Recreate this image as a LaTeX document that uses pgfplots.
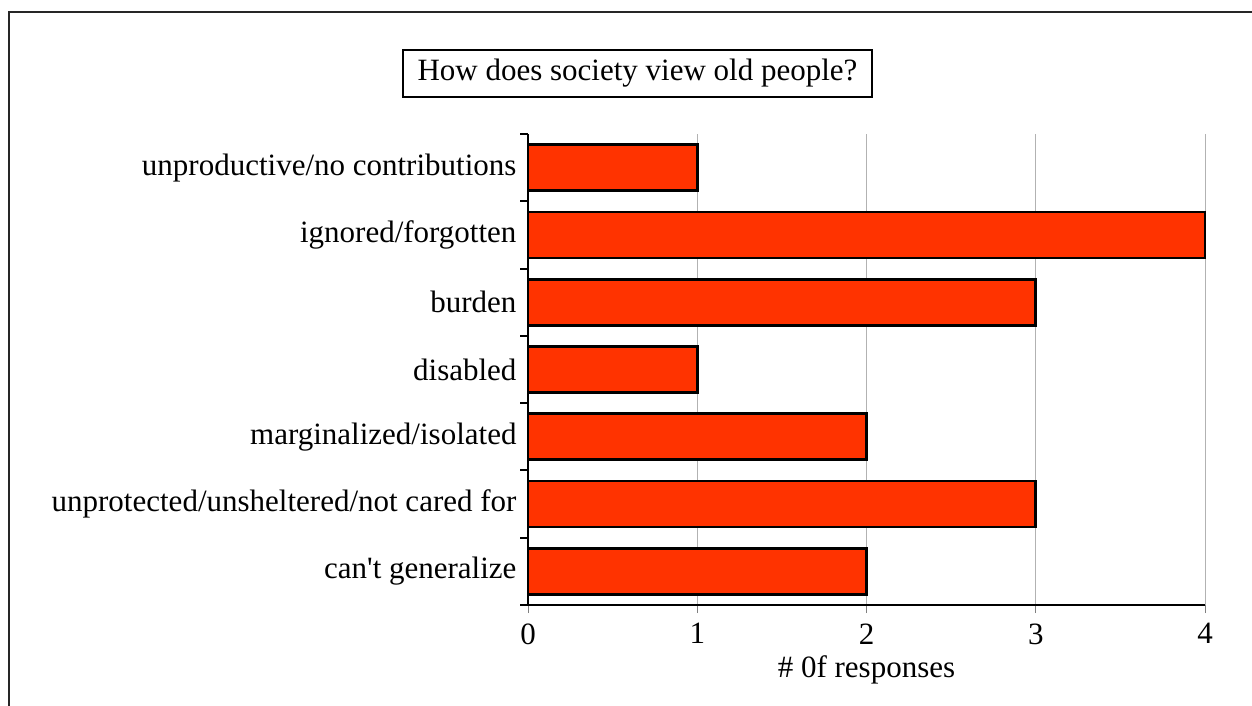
\documentclass[border=0pt]{standalone}
\usepackage{fontspec}
\setmainfont{Liberation Serif}
\usepackage{pgfplots}
\pgfplotsset{compat=1.18}
\definecolor{barred}{RGB}{255,51,0}
\newcommand{\bigf}{\fontsize{31}{37}\selectfont}
\begin{document}
\bigf
\begin{tikzpicture}[x=1pt,y=1pt]
\path[use as bounding box] (0,0) rectangle (1252,706);
\draw[line width=2pt,black!85] (9,0) -- (9,694) -- (1252,694);
\node[draw,line width=2.5pt,minimum width=469pt,minimum height=47pt,inner sep=0pt,font=\bigf] at (637.5,632.5) {How does society view old people?};
\begin{axis}[
  at={(528pt,101pt)}, anchor=south west,
  scale only axis, width=677pt, height=471pt,
  xmin=0, xmax=4, ymin=-0.5, ymax=6.5,
  axis x line*=bottom, axis y line*=left,
  axis line style={line width=2.5pt, -},
  xtick={0,1,2,3,4},
  ytick={0,1,2,3,4,5,6},
  yticklabels={can\textquotesingle t generalize, unprotected/unsheltered/not cared for, marginalized/isolated, disabled, burden, ignored/forgotten, unproductive/no contributions},
  minor ytick={-0.5,0.5,1.5,2.5,3.5,4.5,5.5,6.5},
  ytick style={draw=none},
  minor tick length=8pt,
  minor y tick style={draw=black, line width=2pt},
  tick align=outside,
  major tick length=8pt,
  x tick style={draw=gray, line width=1pt},
  xmajorgrids, grid style={gray!60, line width=1pt},
  ticklabel style={font=\bigf},
  /pgf/number format/assume math mode=true,
  yticklabel style={xshift=7pt},
  xlabel={\# 0f responses},
  xlabel style={font=\bigf, yshift=10pt},
  clip=false,
]
\addplot[xbar, bar width=46pt, fill=barred, draw=black, line width=2.6pt] coordinates {
(2,0) (3,1) (2,2) (1,3) (3,4) (4,5) (1,6)};
\end{axis}
\end{tikzpicture}
\end{document}
